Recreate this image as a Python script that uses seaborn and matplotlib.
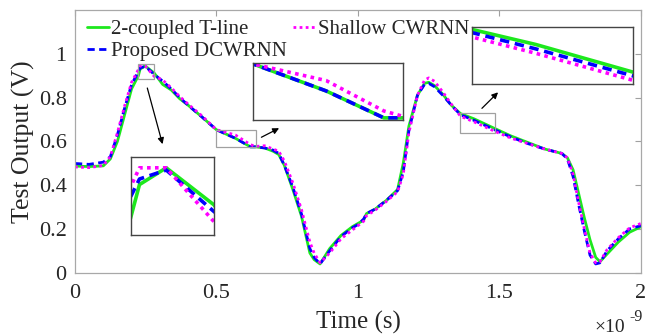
import numpy as np
import pandas as pd
import seaborn as sns
import matplotlib.pyplot as plt
from matplotlib.patches import Rectangle

# ============ Data (time in ns) ============
time_ns = [0, 0.05, 0.1, 0.125, 0.15, 0.175, 0.2, 0.224, 0.23, 0.248, 0.28, 0.31,
           0.34, 0.37, 0.40, 0.45, 0.5, 0.567, 0.62, 0.638, 0.67, 0.7, 0.72, 0.74,
           0.77, 0.8, 0.83, 0.845, 0.866, 0.9, 0.94, 0.98, 1.0, 1.02, 1.03, 1.06,
           1.1, 1.14, 1.16, 1.18, 1.21, 1.235, 1.25, 1.27, 1.3, 1.33, 1.362, 1.41,
           1.483, 1.54, 1.6, 1.66, 1.72, 1.74, 1.76, 1.78, 1.8, 1.82, 1.84, 1.855,
           1.88, 1.92, 1.96, 2.0]

tline = [0.487, 0.485, 0.488, 0.52, 0.60, 0.72, 0.84, 0.90, 0.93, 0.945, 0.912, 0.86,
         0.835, 0.795, 0.765, 0.71, 0.653, 0.614, 0.575, 0.575, 0.57, 0.555, 0.54, 0.49,
         0.38, 0.26, 0.09, 0.06, 0.04, 0.11, 0.17, 0.21, 0.225, 0.24, 0.27, 0.29,
         0.33, 0.38, 0.50, 0.67, 0.81, 0.865, 0.87, 0.855, 0.815, 0.765, 0.727, 0.703,
         0.659, 0.625, 0.595, 0.565, 0.545, 0.525, 0.47, 0.36, 0.25, 0.15, 0.07, 0.05,
         0.085, 0.14, 0.185, 0.21]

dcwrnn = [0.499, 0.495, 0.505, 0.53, 0.63, 0.75, 0.86, 0.919, 0.935, 0.943, 0.906, 0.875,
          0.84, 0.80, 0.765, 0.71, 0.653, 0.614, 0.575, 0.575, 0.57, 0.56, 0.545, 0.49,
          0.39, 0.27, 0.11, 0.07, 0.04, 0.10, 0.165, 0.205, 0.22, 0.245, 0.27, 0.29,
          0.33, 0.375, 0.46, 0.65, 0.81, 0.86, 0.865, 0.85, 0.81, 0.765, 0.722, 0.696,
          0.653, 0.62, 0.59, 0.565, 0.545, 0.52, 0.44, 0.31, 0.19, 0.08, 0.04, 0.045,
          0.10, 0.155, 0.20, 0.215]

cwrnn = [0.483, 0.48, 0.49, 0.53, 0.64, 0.76, 0.87, 0.928, 0.945, 0.945, 0.897, 0.88,
         0.845, 0.805, 0.77, 0.715, 0.653, 0.629, 0.585, 0.577, 0.58, 0.565, 0.555, 0.51,
         0.41, 0.29, 0.14, 0.09, 0.045, 0.09, 0.155, 0.195, 0.215, 0.235, 0.26, 0.285,
         0.325, 0.37, 0.45, 0.64, 0.81, 0.88, 0.89, 0.875, 0.825, 0.77, 0.715, 0.689,
         0.646, 0.615, 0.59, 0.565, 0.545, 0.525, 0.45, 0.32, 0.20, 0.09, 0.045, 0.05,
         0.105, 0.16, 0.205, 0.225]

x_ticks = [0, 0.5, 1, 1.5, 2]
x_ticklabels = ["0", "0.5", "1", "1.5", "2"]
y_ticks = [0, 0.2, 0.4, 0.6, 0.8, 1]
y_ticklabels = ["0", "0.2", "0.4", "0.6", "0.8", "1"]

series = [
    ("2-coupled T-line", tline, "#1de81d", "-"),
    ("Proposed DCWRNN", dcwrnn, "#0000ff", (0, (2.6, 1.6))),
    ("Shallow CWRNN", cwrnn, "#ff00ff", (0, (1, 1.2))),
]

# zoom windows (x in ns, y in V) and inset positions (figure fraction)
zooms = [
    ((0.224, 0.28), (0.885, 0.955), [0.199, 0.2985, 0.127, 0.234]),
    ((0.5, 0.638), (0.572, 0.654), [0.386, 0.642, 0.229, 0.169]),
    ((1.362, 1.483), (0.64, 0.73), [0.719, 0.749, 0.246, 0.169]),
]
arrows = [((0.253, 0.856), (0.312, 0.575)),
          ((0.650, 0.613), (0.730, 0.666)),
          ((1.431, 0.742), (1.502, 0.833))]

# ============ Style ============
sns.set_style("white")
plt.rcParams['font.family'] = ['Liberation Serif', 'DejaVu Serif']

fig = plt.figure(figsize=(6.56, 3.35), dpi=100)
ax = fig.add_axes([0.1143, 0.186, 0.8628, 0.784])

for name, y, c, ls in series:
    sns.lineplot(x=time_ns, y=y, ax=ax, color=c, linestyle=ls, linewidth=2, label=name)

ax.set_xlim(0, 2)
ax.set_ylim(0, 1.2)
ax.set_yticks(y_ticks)
ax.set_yticklabels(y_ticklabels)
ax.set_xticks(x_ticks)
ax.set_xticklabels(x_ticklabels)
ax.tick_params(direction='in', top=True, right=True, length=4, color='#a0a0a0',
               labelsize=16, labelcolor='#262626')
ax.tick_params(axis='x', pad=8)
ax.tick_params(axis='y', pad=6)
for s in ax.spines.values():
    s.set_color('#a8a8a8')
    s.set_linewidth(0.9)
ax.set_xlabel("Time (s)", fontsize=18, color='#262626')
ax.xaxis.set_label_coords(0.5, -0.145)
ax.set_ylabel("Test Output (V)", fontsize=18.5, color='#262626', labelpad=3)

# exponent of the time axis
ax.text(0.972, -0.226, "\u00d710", transform=ax.transAxes, ha='right', va='baseline',
        fontsize=14, color='#262626')
ax.text(1.003, -0.14, "-9", transform=ax.transAxes, ha='right', va='top',
        fontsize=11.5, color='#262626')

ax.legend(loc='upper left', ncol=2, frameon=False, fontsize=15,
          handlelength=1.05, handletextpad=0.12, columnspacing=0.3,
          borderaxespad=0.0, labelspacing=0.12, bbox_to_anchor=(0.006, 0.995))

# ============ Insets ============
for (xl, yl, pos), (p0, p1) in zip(zooms, arrows):
    ax.add_patch(Rectangle((xl[0], yl[0]), xl[1] - xl[0], yl[1] - yl[0],
                           fill=False, edgecolor='#a0a0a0', linewidth=0.9, zorder=5))
    ax.annotate("", xy=p1, xytext=p0,
                arrowprops=dict(arrowstyle='-|>', color='black', lw=0.9,
                                mutation_scale=9))
    ins = fig.add_axes(pos)
    for name, y, c, ls in series:
        sns.lineplot(x=time_ns, y=y, ax=ins, color=c, linestyle=ls, linewidth=2.6,
                     legend=False)
    ins.set_xlim(*xl)
    ins.set_ylim(*yl)
    ins.set_xticks([])
    ins.set_yticks([])
    ins.set_xlabel("")
    ins.set_ylabel("")
    for s in ins.spines.values():
        s.set_color('#444444')
        s.set_linewidth(1.0)

fig.savefig("out.png", dpi=100)
